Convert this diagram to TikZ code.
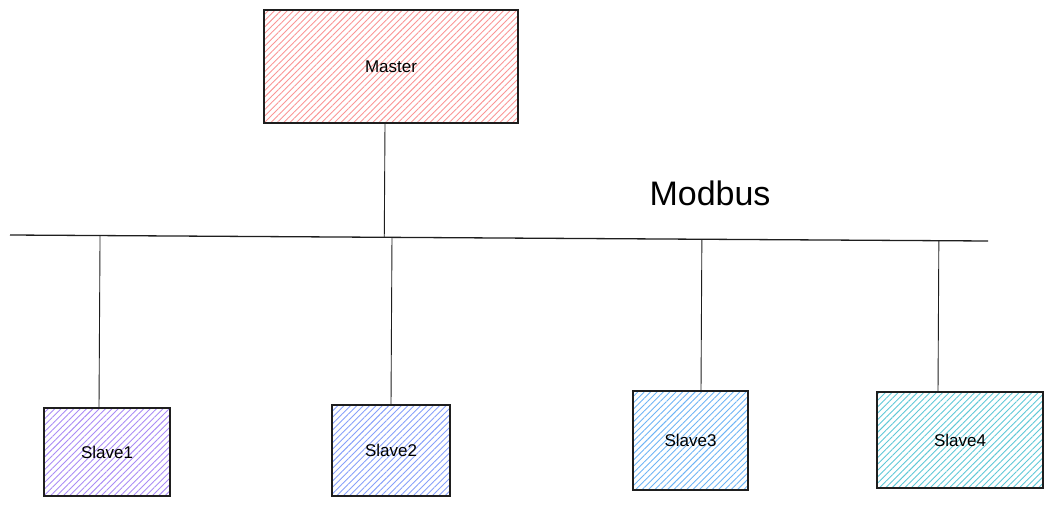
\documentclass[tikz,border=0pt]{standalone}
\usepackage{fontspec}
\setmainfont{Liberation Sans}
\usepackage{tikz}
\usetikzlibrary{calc,patterns.meta}
\definecolor{inkgray}{RGB}{30,30,30}
\definecolor{masterred}{RGB}{250,150,150}
\definecolor{slavepurple}{RGB}{170,140,245}
\definecolor{slaveindigo}{RGB}{135,160,250}
\definecolor{slaveblue}{RGB}{110,180,245}
\definecolor{slavecyan}{RGB}{95,200,215}
\tikzset{
  unitbox/.style={draw=inkgray, line width=1.3pt, inner sep=0pt,
    pattern={Lines[angle=45,distance=4.5pt,line width=0.9pt]}},
  wire/.style={draw=inkgray, line width=0.9pt}
}

\begin{document}
\begin{tikzpicture}[x=1pt, y=-1pt, font=\fontsize{17}{20}\selectfont]

  \useasboundingbox (0,0) rectangle (1051,508);

  % Master (top)
  \node[unitbox, pattern color=masterred, minimum width=254pt, minimum height=113pt]
    (master) at (391,66.5) {Master};

  % Bus line
  \coordinate (busL) at (10,235);
  \coordinate (busR) at (988,241);
  \draw[wire, line width=1.3pt] (busL) -- (busR);
  \node[font=\fontsize{34}{40}\selectfont] (modbus) at (710,193) {Modbus};

  % Slaves (bottom)
  \node[unitbox, pattern color=slavepurple, minimum width=126pt, minimum height=88pt]
    (s1) at (107,452) {Slave1};
  \node[unitbox, pattern color=slaveindigo, minimum width=118pt, minimum height=91pt]
    (s2) at (391,450.5) {Slave2};
  \node[unitbox, pattern color=slaveblue, minimum width=115pt, minimum height=99pt]
    (s3) at (690.5,440.5) {Slave3};
  \node[unitbox, pattern color=slavecyan, minimum width=166pt, minimum height=96pt]
    (s4) at (960,440) {Slave4};

  % Taps onto the bus
  \draw[wire] (master.south -| 385,0) -- ($(busL)!(master.south -| 385,0)!(busR)$);
  \draw[wire] (s1.north -| 99,0) -- ($(busL)!(s1.north -| 99,0)!(busR)$);
  \draw[wire] (s2.north) -- ($(busL)!(s2.north)!(busR)$);
  \draw[wire] (s3.north -| 701,0) -- ($(busL)!(s3.north -| 701,0)!(busR)$);
  \draw[wire] (s4.north -| 938,0) -- ($(busL)!(s4.north -| 938,0)!(busR)$);

\end{tikzpicture}
\end{document}
